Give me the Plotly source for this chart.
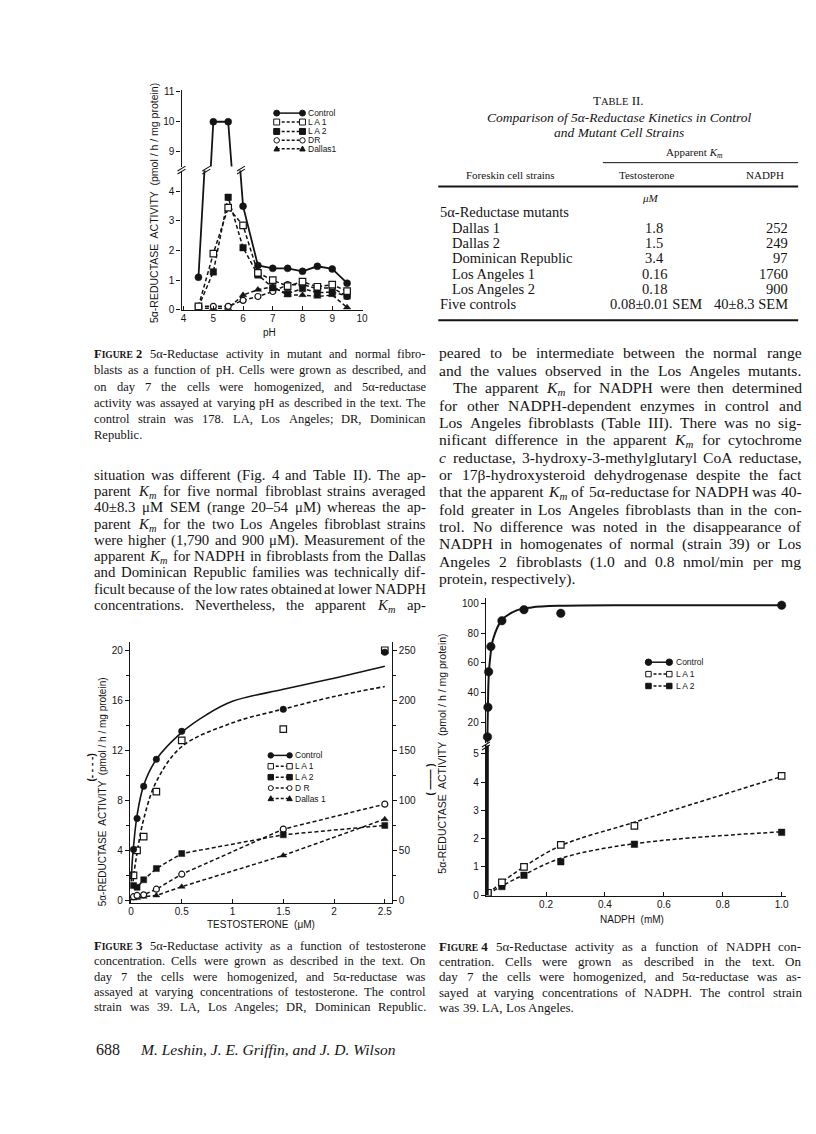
import re
import plotly.graph_objects as go

# ---------------- data ----------------
# Figure 2: activity vs pH
ph_values = [4.5, 5.0, 5.5, 6.0, 6.5, 7.0, 7.5, 8.0, 8.5, 9.0, 9.5]
ph_control = [1.1, 10.0, 10.0, 3.5, 1.5, 1.4, 1.4, 1.3, 1.47, 1.38, 0.9]
ph_la1 = [0.12, 1.9, 3.45, 2.85, 1.25, 1.0, 0.8, 0.95, 0.78, 0.85, 0.63]
ph_la2 = [0.1, 1.28, 3.8, 2.1, 1.18, 0.75, 0.55, 0.72, 0.58, 0.6, 0.47]
ph_dr = [0.12, 0.12, 0.12, 0.32, 0.45, 0.62, 0.85, 0.85, 0.72, 0.75, 0.45]
ph_dallas = [0.05, 0.05, 0.05, 0.5, 0.68, 0.78, 0.5, 0.5, 0.45, 0.5, 0.08]
ph_ticks = [4, 5, 6, 7, 8, 9, 10]
ph_low_ticks = [0, 1, 2, 3, 4]
ph_high_ticks = [9, 10, 11]

# Figure 3: activity vs testosterone (control on right-hand scale)
testo_x = [0.025, 0.06, 0.125, 0.25, 0.5, 1.5, 2.5]
testo_control = [51, 82, 114, 141, 169, 191, 248]
testo_la1 = [2.0, 4.0, 5.1, 8.7, 12.8, 13.7, 20.0]
testo_la2 = [1.2, 1.05, 1.65, 2.55, 3.75, 5.25, 6.0]
testo_dr = [0.3, 0.4, 0.45, 0.9, 2.1, 5.7, 7.7]
testo_dallas = [0.15, 0.2, 0.3, 0.4, 1.1, 3.6, 6.5]
testo_control_fit_x = [0.003, 0.012, 0.025, 0.06, 0.125, 0.25, 0.5, 0.75, 1.0, 1.5, 2.0, 2.5]
testo_control_fit = [19, 38, 54, 85, 115, 141, 168, 186, 199, 211, 222, 234]
testo_la1_fit_x = [0.015, 0.03, 0.06, 0.125, 0.25, 0.5, 1.0, 1.5, 2.0, 2.5]
testo_la1_fit = [1.0, 2.2, 3.8, 6.5, 9.5, 12.3, 14.2, 15.3, 16.3, 17.1]
testo_ticks = [0, 0.5, 1, 1.5, 2, 2.5]
testo_tick_text = ["0", "0.5", "1", "1.5", "2", "2.5"]
testo_left_ticks = [0, 4, 8, 12, 16, 20]
testo_left_minor = [2, 6, 10, 14, 18]
testo_right_ticks = [0, 50, 100, 150, 200, 250]
testo_right_minor = [25, 75, 125, 175, 225]

# Figure 4: activity vs NADPH
nadph_control_x = [0.001, 0.0025, 0.005, 0.0125, 0.05, 0.125, 0.25, 0.5, 1.0]
nadph_control = [10, 30, 54, 71, 88.5, 96, 93.5, 106, 99]
nadph_control_fit_x = [0, 0.0005, 0.001, 0.0025, 0.005, 0.01, 0.02, 0.05, 0.1, 0.15, 0.25, 0.5, 1.0]
nadph_control_fit = [0, 6, 12, 30, 50, 63, 76, 89, 95.5, 97.5, 98.6, 99, 99]
nadph_x = [0.0025, 0.05, 0.125, 0.25, 0.5, 1.0]
nadph_la1 = [0.08, 0.45, 1.0, 1.78, 2.45, 4.22]
nadph_la2 = [0.05, 0.3, 0.7, 1.18, 1.8, 2.22]
nadph_la1_fit = [0.05, 0.45, 1.0, 1.75, 2.58, 4.2]
nadph_la2_fit = [0.03, 0.32, 0.72, 1.3, 1.82, 2.24]
nadph_ticks = [0.2, 0.4, 0.6, 0.8, 1.0]
nadph_tick_text = ["0.2", "0.4", "0.6", "0.8", "1.0"]
nadph_low_ticks = [0, 1, 2, 3, 4, 5]
nadph_high_ticks = [20, 40, 60, 80, 100]

# Table II
table_rows = ["Dallas 1", "Dallas 2", "Dominican Republic", "Los Angeles 1", "Los Angeles 2"]
table_testo = ["1.8", "1.5", "3.4", "0.16", "0.18"]
table_nadph = ["252", "249", "97", "1760", "900"]
table_ctrl = ["Five controls", "0.08±0.01 SEM", "40±8.3 SEM"]

# ---------------- helpers ----------------
W, H = 816, 1134
INK = "#141414"
SERIF = "Liberation Serif, Times New Roman, serif"
SANS = "Liberation Sans, Arial, sans-serif"
DASH = "4px,2.5px"
LCOL = (84, 418)
RCOL = (432, 797)


def px(x):
    return x / W


def py(y):
    return 1 - y / H


annotations = []
shapes = []


def txt(s, x, y, size=14.5, family=SERIF, xanchor="left", angle=0, color=INK, yanchor="middle"):
    annotations.append(dict(text=s, x=px(x), y=py(y), xref="paper", yref="paper",
                            xanchor=xanchor, yanchor=yanchor, showarrow=False, borderpad=0,
                            textangle=angle, font=dict(family=family, size=size, color=color)))


# Times / Liberation Serif advance widths (1/1000 em)
TW = {' ': 250, '(': 333, ')': 333, ',': 250, '-': 333, '.': 250, '/': 278, ':': 278, ';': 278,
      '±': 564, 'μ': 520, '–': 500, 'α': 530, 'β': 500, "'": 180}
for ch in "0123456789":
    TW[ch] = 500
TW.update(dict(zip("ABCDEFGHIJKLMNOPQRSTUVWXYZ",
                   [722, 667, 667, 722, 611, 556, 722, 722, 333, 389, 722, 611, 889, 722, 722, 556, 722,
                    667, 556, 611, 722, 722, 944, 722, 722, 611])))
TW.update(dict(zip("abcdefghijklmnopqrstuvwxyz",
                   [444, 500, 444, 500, 444, 333, 500, 500, 278, 278, 500, 278, 778, 500, 500, 500, 500,
                    333, 389, 278, 500, 500, 722, 500, 500, 444])))


def tok_width(tok, size):
    w, i, sizes, bold, sub = 0.0, 0, [size], False, False
    while i < len(tok):
        if tok[i] == "<":
            j = tok.index(">", i)
            tag = tok[i + 1:j]
            if tag == "b":
                bold = True
            elif tag == "/b":
                bold = False
            elif tag == "sub":
                sub = True
            elif tag == "/sub":
                sub = False
            elif tag.startswith("span"):
                sizes.append(float(re.search(r"font-size:([\d.]+)px", tag).group(1)))
            elif tag == "/span":
                sizes.pop()
            i = j + 1
            continue
        s = sizes[-1] * (0.7 if sub else 1.0)
        w += TW.get(tok[i], 500) / 1000.0 * s * (1.06 if bold else 1.0)
        i += 1
    return w


def justify(line, x0, x1, y, size, full=True):
    toks = re.findall(r"(?:<[^>]*>|[^ <])+", line)
    widths = [tok_width(t, size) for t in toks]
    natural_gap = 0.25 * size
    if full and len(toks) > 1:
        gap = max((x1 - x0 - sum(widths)) / (len(toks) - 1), 0.14 * size)
    else:
        gap = natural_gap
    x = x0
    ytop = y - 0.55 * size
    for t, w in zip(toks, widths):
        txt(t, x, ytop, size=size, yanchor="top")
        x += w + gap


def paragraph(lines, x0, x1, y0, dy, size, last_full=False, label=None, indent=None):
    for i, s in enumerate(lines):
        start = x0
        if i == 0 and label:
            lw = tok_width(label, size)
            txt(label, x0, y0 - 0.55 * size, size=size, yanchor="top")
            start = x0 + lw + 0.7 * size
        if indent and i in indent:
            start = x0 + indent[i]
        full = (i < len(lines) - 1) or last_full
        justify(s, start, x1, y0 + i * dy, size, full)


def hline(x0, x1, y, w=1.0, dash=None):
    shapes.append(dict(type="line", xref="paper", yref="paper", x0=px(x0), x1=px(x1),
                       y0=py(y), y1=py(y), line=dict(color=INK, width=w, dash=dash)))


def seg(x0, y0, x1, y1, w=1.0):
    shapes.append(dict(type="line", xref="paper", yref="paper", x0=px(x0), x1=px(x1),
                       y0=py(y0), y1=py(y1), line=dict(color=INK, width=w)))


def glyph(kind, cx, cy, s):
    h = s / 2
    base = dict(xref="paper", yref="paper", line=dict(color=INK, width=1))
    if kind in ("circle", "circle-open"):
        shapes.append(dict(base, type="circle", x0=px(cx - h), x1=px(cx + h), y0=py(cy + h), y1=py(cy - h),
                           fillcolor=INK if kind == "circle" else "white"))
    elif kind in ("square", "square-open"):
        shapes.append(dict(base, type="rect", x0=px(cx - h), x1=px(cx + h), y0=py(cy + h), y1=py(cy - h),
                           fillcolor=INK if kind == "square" else "white"))
    else:
        path = "M %f %f L %f %f L %f %f Z" % (px(cx - h), py(cy + h * 0.8), px(cx + h), py(cy + h * 0.8),
                                               px(cx), py(cy - h))
        shapes.append(dict(base, type="path", path=path, fillcolor=INK))


def legend(rows, x0, x1, xt, size=9):
    for label, kind, dash, y, ms in rows:
        hline(x0, x1, y, w=1.5, dash=dash)
        glyph(kind, x0, y, ms)
        glyph(kind, x1, y, ms)
        txt(label, xt, y, size=size, family=SANS)


def mk(symbol, size):
    if symbol.endswith("-open"):
        return dict(symbol=symbol.replace("-open", ""), size=size, color="white",
                    line=dict(color=INK, width=1.2))
    return dict(symbol=symbol, size=size, color=INK, line=dict(color=INK, width=0.5))


fig = go.Figure()


def add(x, y, xa, ya, mode, symbol=None, size=6, dash=None, width=1.5, shape="linear", clip=True):
    kw = dict(x=x, y=y, xaxis=xa, yaxis=ya, mode=mode, showlegend=False, cliponaxis=clip,
              hoverinfo="x+y")
    if "lines" in mode:
        kw["line"] = dict(color=INK, width=width, dash=dash, shape=shape)
    if "markers" in mode:
        kw["marker"] = mk(symbol, size)
    fig.add_trace(go.Scatter(**kw))


# ---- Figure 2 traces ----
add(ph_values, ph_dallas, "x", "y", "lines+markers", "triangle-up", 6.5, DASH)
add(ph_values, ph_dr, "x", "y", "lines+markers", "circle-open", 6, DASH)
add(ph_values, ph_la2, "x", "y", "lines+markers", "square", 6.5, DASH)
add(ph_values, ph_la1, "x", "y", "lines+markers", "square-open", 6.5, DASH)
add(ph_values, ph_control, "x", "y", "lines+markers", "circle", 7, None, 1.8)
add(ph_values, ph_control, "x", "y2", "lines+markers", "circle", 7, None, 1.8)

# ---- Figure 3 traces ----
add(testo_x, testo_dallas, "x2", "y3", "lines+markers", "triangle-up", 6, DASH)
add(testo_x, testo_dr, "x2", "y3", "lines+markers", "circle-open", 6, DASH)
add(testo_x, testo_la2, "x2", "y3", "lines+markers", "square", 6, DASH)
add(testo_la1_fit_x, testo_la1_fit, "x2", "y3", "lines", dash=DASH, width=1.6, shape="spline")
add(testo_x, testo_la1, "x2", "y3", "markers", "square-open", 6.5, clip=False)
add(testo_control_fit_x, testo_control_fit, "x2", "y4", "lines", width=1.6, shape="spline")
add(testo_x, testo_control, "x2", "y4", "markers", "circle", 6.5, clip=False)

# ---- Figure 4 traces ----
add(nadph_x, nadph_la2_fit, "x3", "y5", "lines", dash=DASH, width=1.5, shape="spline")
add(nadph_x, nadph_la2, "x3", "y5", "markers", "square", 6.5)
add(nadph_x, nadph_la1_fit, "x3", "y5", "lines", dash=DASH, width=1.5, shape="spline")
add(nadph_x, nadph_la1, "x3", "y5", "markers", "square-open", 6.5)
add(nadph_control_fit_x, nadph_control_fit, "x3", "y5", "lines", width=3)
add(nadph_control_fit_x, nadph_control_fit, "x3", "y6", "lines", width=2, shape="spline")
add(nadph_control_x, nadph_control, "x3", "y6", "markers", "circle", 8.5, clip=False)

# ---------------- axes ----------------
tickfont = dict(family=SANS, size=10, color=INK)


def xaxis(dom, rng, anchor, vals, text=None):
    return dict(domain=[px(dom[0]), px(dom[1])], range=rng, anchor=anchor, showline=True,
                linecolor=INK, linewidth=1.3, ticks="inside", ticklen=4, tickwidth=1.2, tickcolor=INK,
                tickmode="array", tickvals=vals, ticktext=text or [str(v) for v in vals],
                tickfont=tickfont, ticklabelstandoff=-1, showgrid=False, zeroline=False, fixedrange=True)


def yaxis(top, bottom, rng, anchor, vals, side="left", overlaying=None, minor=None):
    d = dict(domain=[py(bottom), py(top)], range=rng, anchor=anchor, side=side, showline=True,
             linecolor=INK, linewidth=1.3, ticks="outside", ticklen=4, tickwidth=1.2, tickcolor=INK,
             tickmode="array", tickvals=vals, ticktext=[str(v) for v in vals], tickfont=tickfont,
             showgrid=False, zeroline=False, fixedrange=True)
    if overlaying:
        d["overlaying"] = overlaying
    if minor:
        d["minor"] = dict(tickvals=minor, ticks="outside", ticklen=3, tickwidth=1, tickcolor=INK)
    return d


layout_axes = dict(
    xaxis=xaxis((173, 355.6), [3.93, 10.02], "y", ph_ticks),
    yaxis=yaxis(160, 300.5, [0, 4.7], "x", ph_low_ticks),
    yaxis2=yaxis(79, 156, [8.5, 11.05], "x", ph_high_ticks),
    xaxis2=xaxis((121, 385), [-0.01, 2.568], "y3", testo_ticks, testo_tick_text),
    yaxis3=yaxis(636, 899, [-0.21, 20.63], "x2", testo_left_ticks, minor=testo_left_minor),
    yaxis4=yaxis(636, 899, [-0.21 * 12.5, 20.63 * 12.5], "x2", testo_right_ticks, side="right",
                 overlaying="y3", minor=testo_right_minor),
    xaxis3=xaxis((480, 783), [-0.0044, 1.0158], "y5", nadph_ticks, nadph_tick_text),
    yaxis5=yaxis(740, 892, [-0.04, 5.3], "x3", nadph_low_ticks),
    yaxis6=yaxis(591, 737, [6.2, 104], "x3", nadph_high_ticks),
)

# axis breaks
for (cx, cy) in [(173, 158), (198, 158), (233, 158), (480, 739)]:
    seg(cx - 4, cy + 2.5, cx + 4, cy - 2.5, 1.1)
    seg(cx - 4, cy + 5.5, cx + 4, cy + 0.5, 1.1)

# ---------------- plot labels ----------------
YT = "5α-REDUCTASE  ACTIVITY  (pmol / h / mg protein)"
txt(YT, 146, 193, size=10.5, family=SANS, xanchor="center", angle=-90)
txt("pH", 262, 323, size=10, family=SANS, xanchor="center")
txt(YT, 93, 787, size=10, family=SANS, xanchor="center", angle=-90)
txt("<b>(- - - -)</b>", 82, 762, size=10, family=SANS, xanchor="center", angle=-90)
txt("<b>( —— )</b>", 424, 774, size=10, family=SANS, xanchor="center", angle=-90)
txt("TESTOSTERONE  (μM)", 253, 921, size=10, family=SANS, xanchor="center")
txt(YT, 436, 748, size=10.5, family=SANS, xanchor="center", angle=-90)
txt("NADPH  (mM)", 627, 916, size=10, family=SANS, xanchor="center")

legend([("Control", "circle", None, 102, 6), ("L A 1", "square-open", "3px,2px", 111, 6),
        ("L A 2", "square", "3px,2px", 120.5, 6), ("DR", "circle-open", "3px,2px", 129.5, 5.5),
        ("Dallas1", "triangle", "3px,2px", 138, 5.5)], 269, 295, 300, size=8.5)
legend([("Control", "circle", None, 750, 5.5), ("L A 1", "square-open", "3px,2px", 761, 5.5),
        ("L A 2", "square", "3px,2px", 772, 5.5), ("D R", "circle-open", "3px,2px", 783, 5),
        ("Dallas 1", "triangle", "3px,2px", 793.5, 5.5)], 263, 282, 286, size=8.5)
legend([("Control", "circle", None, 656, 6.5), ("L A 1", "square-open", "3px,2px", 668, 5.5),
        ("L A 2", "square", "3px,2px", 680, 5.5)], 644, 665, 671, size=8.5)

# ---------------- Table II ----------------
txt("T<span style='font-size:10.5px'>ABLE</span> II.", 614, 89, size=13, xanchor="center")
txt("<i>Comparison of 5α-Reductase Kinetics in Control</i>", 614, 106, size=13.5, xanchor="center")
txt("<i>and Mutant Cell Strains</i>", 614, 122, size=13.5, xanchor="center")
txt("Apparent <i>K<sub>m</sub></i>", 690, 142, size=11, xanchor="center")
hline(598, 795, 152, w=1)
txt("Foreskin cell strains", 505, 164, size=11, xanchor="center")
txt("Testosterone", 643, 164, size=11, xanchor="center")
txt("NADPH", 762, 164, size=11, xanchor="center")
hline(432, 795, 176, w=2)
txt("<i>μM</i>", 646, 188, size=11, xanchor="center")
txt("5α-Reductase mutants", 433, 202, size=14.5)
for i, (r, t, n) in enumerate(zip(table_rows, table_testo, table_nadph)):
    yy = 217.5 + i * 15.5
    txt(r, 445, yy, size=14.5)
    txt(t, 650, yy, size=14.5, xanchor="center")
    txt(n, 786, yy, size=14.5, xanchor="right")
txt(table_ctrl[0], 433, 295, size=14.5)
txt(table_ctrl[1], 652, 295, size=14.5, xanchor="center")
txt(table_ctrl[2], 786, 295, size=14.5, xanchor="right")
hline(432, 795, 311, w=2)

# ---------------- captions & body text (justified) ----------------
def fig_label(n):
    return "<b>F<span style='font-size:9.5px'>IGURE</span></b> <b>%d</b>" % n


BODY_L = 14.8
BODY_R = 15.6
CAP = 12.5

cap2 = ["5α-Reductase activity in mutant and normal fibro-",
        "blasts as a function of pH. Cells were grown as described, and",
        "on day 7 the cells were homogenized, and 5α-reductase",
        "activity was assayed at varying pH as described in the text. The",
        "control strain was 178. LA, Los Angeles; DR, Dominican",
        "Republic."]
paragraph(cap2, LCOL[0], LCOL[1], 344, 16.4, CAP, label=fig_label(2))

KM = "<i>K<sub>m</sub></i>"
body_left = ["situation was different (Fig. 4 and Table II). The ap-",
             "parent %s for five normal fibroblast strains averaged" % KM,
             "40±8.3 μM SEM (range 20–54 μM) whereas the ap-",
             "parent %s for the two Los Angeles fibroblast strains" % KM,
             "were higher (1,790 and 900 μM). Measurement of the",
             "apparent %s for NADPH in fibroblasts from the Dallas" % KM,
             "and Dominican Republic families was technically dif-",
             "ficult because of the low rates obtained at lower NADPH",
             "concentrations. Nevertheless, the apparent %s ap-" % KM]
paragraph(body_left, LCOL[0], LCOL[1], 466, 16.4, BODY_L, last_full=True)

body_right1 = ["peared to be intermediate between the normal range",
               "and the values observed in the Los Angeles mutants."]
paragraph(body_right1, RCOL[0], RCOL[1], 343, 17.5, BODY_R, last_full=True)
body_right2 = ["The apparent %s for NADPH were then determined" % KM,
               "for other NADPH-dependent enzymes in control and",
               "Los Angeles fibroblasts (Table III). There was no sig-",
               "nificant difference in the apparent %s for cytochrome" % KM,
               "<i>c</i> reductase, 3-hydroxy-3-methylglutaryl CoA reductase,",
               "or 17β-hydroxysteroid dehydrogenase despite the fact",
               "that the apparent %s of 5α-reductase for NADPH was 40-" % KM,
               "fold greater in Los Angeles fibroblasts than in the con-",
               "trol. No difference was noted in the disappearance of",
               "NADPH in homogenates of normal (strain 39) or Los",
               "Angeles 2 fibroblasts (1.0 and 0.8 nmol/min per mg",
               "protein, respectively)."]
paragraph(body_right2, RCOL[0], RCOL[1], 343 + 2 * 17.5, 17.5, BODY_R, indent={0: 14})

cap3 = ["5α-Reductase activity as a function of testosterone",
        "concentration. Cells were grown as described in the text. On",
        "day 7 the cells were homogenized, and 5α-reductase was",
        "assayed at varying concentrations of testosterone. The control",
        "strain was 39. LA, Los Angeles; DR, Dominican Republic."]
paragraph(cap3, LCOL[0], LCOL[1], 941, 15.5, CAP, label=fig_label(3), last_full=True)

cap4 = ["5α-Reductase activity as a function of NADPH con-",
        "centration. Cells were grown as described in the text. On",
        "day 7 the cells were homogenized, and 5α-reductase was as-",
        "sayed at varying concentrations of NADPH. The control strain",
        "was 39. LA, Los Angeles."]
paragraph(cap4, RCOL[0], RCOL[1], 941, 15.5, 13.0, label=fig_label(4))

txt("688", 86, 1047, size=16)
txt("<i>M. Leshin, J. E. Griffin, and J. D. Wilson</i>", 130, 1047, size=15.5)

fig.update_layout(width=W, height=H, margin=dict(l=0, r=0, t=0, b=0), paper_bgcolor="white",
                  plot_bgcolor="rgba(0,0,0,0)", showlegend=False, annotations=annotations,
                  shapes=shapes, **layout_axes)

fig.write_html("out.html")
